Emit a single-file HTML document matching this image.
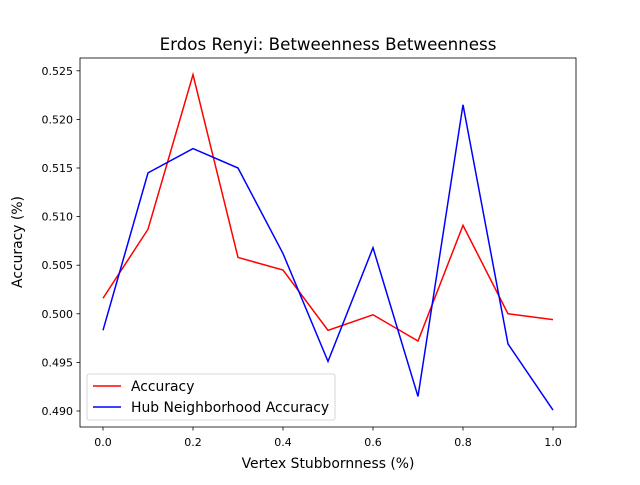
<!DOCTYPE html>
<html><head><meta charset="utf-8"><style>
body{margin:0;background:#fff;}
svg text{font-family:"DejaVu Sans","Liberation Sans",sans-serif;fill:#000;}
</style></head><body>
<svg id="chart" width="640" height="480" xmlns="http://www.w3.org/2000/svg">
<rect width="640" height="480" fill="#fff"/>
<text x="328" y="50" font-size="16.7" text-anchor="middle">Erdos Renyi: Betweenness Betweenness</text>
<g id="plot"></g>
<rect x="80" y="58" width="496" height="369" fill="none" stroke="#000" stroke-width="0.8"/>
<text x="328" y="468" font-size="13.9" text-anchor="middle">Vertex Stubbornness (%)</text>
<text transform="translate(22,242) rotate(-90)" font-size="13.9" text-anchor="middle">Accuracy (%)</text>
<g>
<rect x="87" y="374" width="248" height="46" rx="2" fill="#fff" fill-opacity="0.8" stroke="#ccc" stroke-width="0.8"/>
<line x1="93" y1="386" x2="121" y2="386" stroke="red" stroke-width="1.5"/>
<text x="131" y="391" font-size="13.9">Accuracy</text>
<line x1="93" y1="407" x2="121" y2="407" stroke="blue" stroke-width="1.5"/>
<text x="131" y="412" font-size="13.9">Hub Neighborhood Accuracy</text>
</g>
</svg>
<script>
const xValues=[0,0.1,0.2,0.3,0.4,0.5,0.6,0.7,0.8,0.9,1.0];
const accuracy=[0.5016,0.5087,0.5246,0.5058,0.5045,0.4983,0.4999,0.4972,0.5091,0.5000,0.4994];
const hubAccuracy=[0.4983,0.5145,0.5170,0.5150,0.5062,0.4951,0.5068,0.4915,0.5215,0.4969,0.4901];
const xTicks=[0,0.2,0.4,0.6,0.8,1.0];
const xTickLabels=["0.0","0.2","0.4","0.6","0.8","1.0"];
const yTicks=[0.490,0.495,0.500,0.505,0.510,0.515,0.520,0.525];
const yTickLabels=["0.490","0.495","0.500","0.505","0.510","0.515","0.520","0.525"];
const NS="http://www.w3.org/2000/svg";
const xs=v=>103+v*450;
const ys=v=>411-(v-0.490)*9720;
const g=document.getElementById('plot');
function mk(t,a){const e=document.createElementNS(NS,t);for(const k in a)e.setAttribute(k,a[k]);g.appendChild(e);return e;}
xTicks.forEach((t,i)=>{
 const l=mk('line',{x1:xs(t),x2:xs(t),y1:427,y2:430.5,stroke:'#000','stroke-width':0.8});
 
 
 const tx=mk('text',{x:xs(t),y:446,'font-size':11,'text-anchor':'middle'});tx.textContent=xTickLabels[i];
 
 
});
yTicks.forEach((t,i)=>{
 const l=mk('line',{x1:76.5,x2:80,y1:ys(t),y2:ys(t),stroke:'#000','stroke-width':0.8});
 
 
 const tx=mk('text',{x:73,y:ys(t)+4,'font-size':11,'text-anchor':'end'});tx.textContent=yTickLabels[i];
 
 
});
function line(vals,color,name){
 const p=mk('polyline',{points:vals.map((v,i)=>xs(xValues[i])+','+ys(v)).join(' '),fill:'none',stroke:color,'stroke-width':1.5});
 
 
}
line(accuracy,'red','accuracy-line');
line(hubAccuracy,'blue','hub-accuracy-line');
</script>
</body></html>
